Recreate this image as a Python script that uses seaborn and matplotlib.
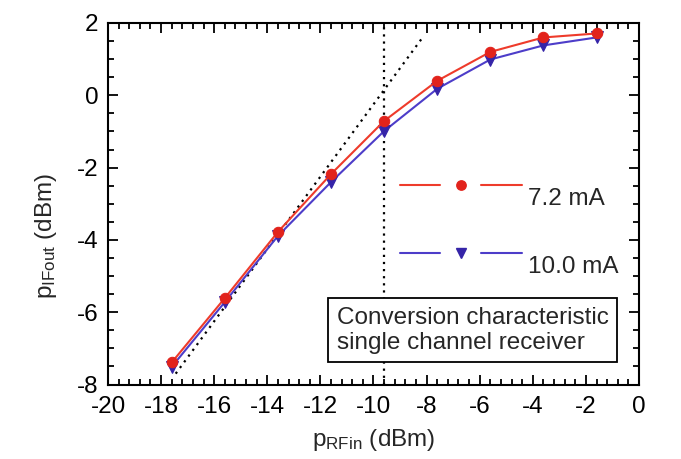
import matplotlib
matplotlib.use("Agg")
import matplotlib.pyplot as plt
import seaborn as sns
from matplotlib.lines import Line2D
from matplotlib.legend_handler import HandlerBase
from matplotlib.ticker import MultipleLocator

# Input RF power (dBm) and output IF power (dBm) for two photodiode currents
p_rf_in = [-17.6, -15.6, -13.6, -11.6, -9.6, -7.6, -5.6, -3.6, -1.6]
p_if_72mA = [-7.39, -5.61, -3.78, -2.18, -0.71, 0.40, 1.20, 1.60, 1.71]
p_if_100mA = [-7.51, -5.72, -3.89, -2.40, -0.99, 0.18, 0.99, 1.38, 1.60]
series_labels = ["7.2 mA", "10.0 mA"]

# Ideal linear (slope 1) extrapolation and the compression point marker
linear_x = [-17.45, -8.15]
linear_y = [-7.70, 1.60]
compression_x = -9.6

x_ticks = [-20, -18, -16, -14, -12, -10, -8, -6, -4, -2, 0]
y_ticks = [-8, -6, -4, -2, 0, 2]

RED = "#ee3b2b"
RED_MK = "#e2231c"
BLUE = "#4d3dc9"
BLUE_MK = "#3524a8"

sns.set_theme(style="ticks")
plt.rcParams["font.family"] = ["Liberation Sans", "DejaVu Sans"]
plt.rcParams["mathtext.fontset"] = "custom"
plt.rcParams["mathtext.rm"] = "Liberation Sans"
plt.rcParams["mathtext.default"] = "regular"
plt.rcParams["axes.unicode_minus"] = False

FS = 17.5

fig = plt.figure(figsize=(6.81, 4.59), dpi=100)
ax = fig.add_axes([0.1586, 0.1623, 0.7797, 0.7876])

ax.plot(linear_x, linear_y, color="black", lw=1.6, ls=(0, (1, 2.2)), zorder=1)
ax.axvline(compression_x, color="black", lw=1.6, ls=(0, (1, 2.2)), zorder=1)

sns.lineplot(x=p_rf_in, y=p_if_72mA, ax=ax, color=RED, lw=1.5, marker="o",
             markersize=7.5, markerfacecolor=RED_MK, markeredgecolor=RED_MK,
             label=series_labels[0], zorder=3)
sns.lineplot(x=p_rf_in, y=p_if_100mA, ax=ax, color=BLUE, lw=1.5, marker="v",
             markersize=8, markerfacecolor=BLUE_MK, markeredgecolor=BLUE_MK,
             label=series_labels[1], zorder=2)

ax.set_xlim(-20, 0)
ax.set_ylim(-8, 2)
ax.set_xticks(x_ticks)
ax.set_yticks(y_ticks)
ax.xaxis.set_minor_locator(MultipleLocator(0.4))
ax.yaxis.set_minor_locator(MultipleLocator(0.5))
ax.tick_params(which="both", direction="in", top=True, right=True,
               colors="black", labelsize=FS, width=1.3)
ax.tick_params(which="major", length=7)
ax.tick_params(axis="x", which="major", pad=8.5)
ax.tick_params(axis="y", which="major", pad=7)
ax.tick_params(which="minor", length=4.5)
for s in ax.spines.values():
    s.set_linewidth(1.5)
    s.set_color("black")

ax.set_xlabel(r"p$_{RFin}$ (dBm)", fontsize=FS, labelpad=6)
ax.set_ylabel(r"p$_{IFout}$ (dBm)", fontsize=FS, labelpad=5)
ax.yaxis.set_label_coords(-0.092, 0.41)


class GapLineHandler(HandlerBase):
    """Legend key: line segment, marker, line segment with gaps in between."""

    def __init__(self, gap=0.17, lift=0.0, **kw):
        super().__init__(**kw)
        self.gap = gap
        self.lift = lift

    def create_artists(self, legend, orig, xdescent, ydescent, width, height,
                       fontsize, trans):
        x0 = -xdescent
        x1 = x0 + width
        xm = 0.5 * (x0 + x1)
        y = -ydescent + 0.5 * height + self.lift
        g = self.gap * width
        kw = dict(color=orig.get_color(), lw=orig.get_linewidth())
        left = Line2D([x0, xm - g], [y, y], **kw)
        right = Line2D([xm + g, x1], [y, y], **kw)
        mk = Line2D([xm], [y], ls="none", marker=orig.get_marker(),
                    markersize=orig.get_markersize() * 0.9,
                    markerfacecolor=orig.get_markerfacecolor(),
                    markeredgecolor=orig.get_markeredgecolor())
        for a in (left, right, mk):
            a.set_transform(trans)
        return [left, right, mk]


handles, labels = ax.get_legend_handles_labels()
ax.legend(handles, labels, loc="upper left", bbox_to_anchor=(0.55, 0.543),
          frameon=False, fontsize=FS, handlelength=5.0, handletextpad=0.25,
          labelspacing=1.9, borderpad=0, borderaxespad=0,
          handler_map={h: GapLineHandler(lift=8.6) for h in handles})

ax.text(0.687, 0.150, "Conversion characteristic\nsingle channel receiver",
        transform=ax.transAxes, ha="center", va="center", multialignment="left",
        fontsize=FS, linespacing=1.2,
        bbox=dict(boxstyle="square,pad=0.35", facecolor="white",
                  edgecolor="black", linewidth=1.3), zorder=4)

fig.savefig("out.png", dpi=100, facecolor="white")
